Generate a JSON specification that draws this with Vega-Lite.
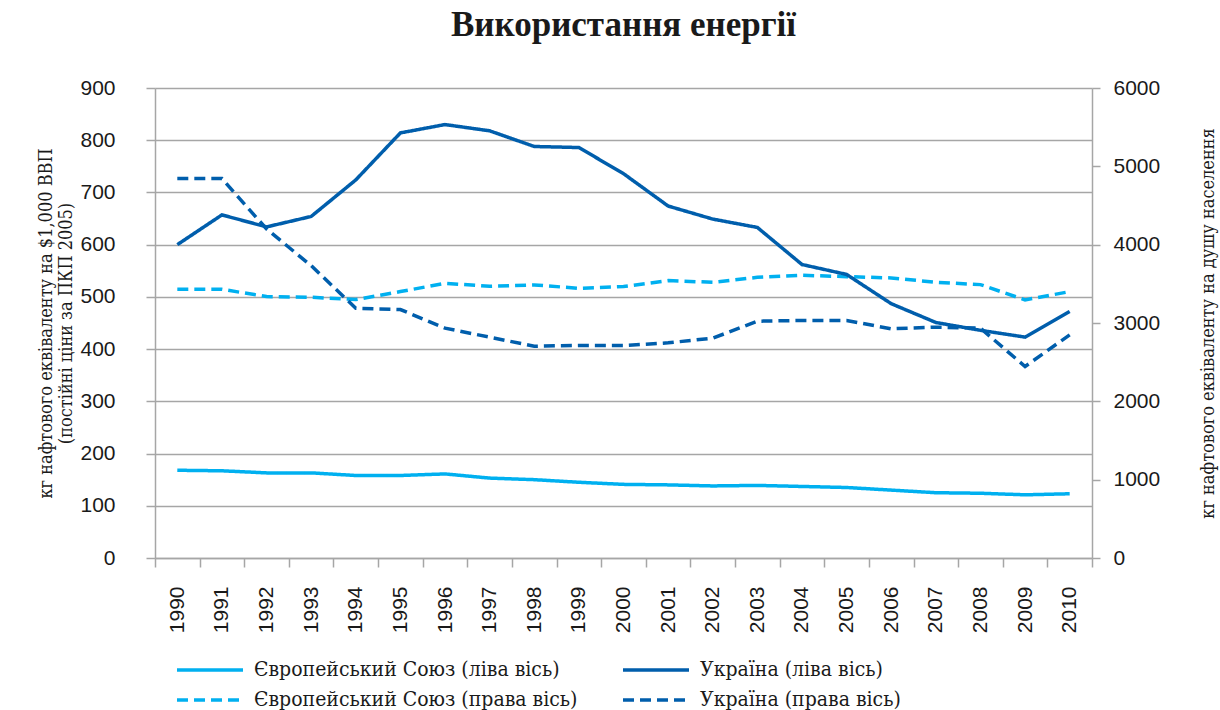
{
  "$schema": "https://vega.github.io/schema/vega-lite/v6.json",
  "width": 937,
  "height": 470,
  "autosize": "none",
  "padding": {"left": 155, "top": 88, "right": 128, "bottom": 152},
  "background": "white",
  "title": {
    "text": "Використання енергії",
    "font": "Liberation Serif",
    "fontWeight": "bold",
    "fontSize": 35,
    "color": "#1a1a1a",
    "anchor": "middle",
    "offset": 34
  },
  "config": {
    "view": {"stroke": null},
    "axis": {
      "labelFont": "Liberation Sans",
      "labelFontSize": 21,
      "labelColor": "#1a1a1a",
      "titleFont": "DejaVu Serif Condensed",
      "titleFontSize": 18,
      "titleFontWeight": "normal",
      "titleColor": "#1a1a1a",
      "domainColor": "#a6a6a6",
      "tickColor": "#a6a6a6",
      "gridColor": "#a6a6a6",
      "domainWidth": 1.5,
      "tickWidth": 1.5,
      "gridWidth": 1.5
    },
    "legend": {
      "labelFont": "DejaVu Serif Condensed",
      "labelFontSize": 21,
      "labelColor": "#1a1a1a",
      "labelLimit": 0
    }
  },
  "data": {
    "values": [
      {"year": 1990, "series": "Європейський Союз (ліва вісь)", "axis": "left", "value": 168},
      {"year": 1991, "series": "Європейський Союз (ліва вісь)", "axis": "left", "value": 167},
      {"year": 1992, "series": "Європейський Союз (ліва вісь)", "axis": "left", "value": 163},
      {"year": 1993, "series": "Європейський Союз (ліва вісь)", "axis": "left", "value": 163},
      {"year": 1994, "series": "Європейський Союз (ліва вісь)", "axis": "left", "value": 158},
      {"year": 1995, "series": "Європейський Союз (ліва вісь)", "axis": "left", "value": 158},
      {"year": 1996, "series": "Європейський Союз (ліва вісь)", "axis": "left", "value": 161},
      {"year": 1997, "series": "Європейський Союз (ліва вісь)", "axis": "left", "value": 153},
      {"year": 1998, "series": "Європейський Союз (ліва вісь)", "axis": "left", "value": 150},
      {"year": 1999, "series": "Європейський Союз (ліва вісь)", "axis": "left", "value": 145},
      {"year": 2000, "series": "Європейський Союз (ліва вісь)", "axis": "left", "value": 141},
      {"year": 2001, "series": "Європейський Союз (ліва вісь)", "axis": "left", "value": 140},
      {"year": 2002, "series": "Європейський Союз (ліва вісь)", "axis": "left", "value": 138},
      {"year": 2003, "series": "Європейський Союз (ліва вісь)", "axis": "left", "value": 139},
      {"year": 2004, "series": "Європейський Союз (ліва вісь)", "axis": "left", "value": 137},
      {"year": 2005, "series": "Європейський Союз (ліва вісь)", "axis": "left", "value": 135},
      {"year": 2006, "series": "Європейський Союз (ліва вісь)", "axis": "left", "value": 130},
      {"year": 2007, "series": "Європейський Союз (ліва вісь)", "axis": "left", "value": 125},
      {"year": 2008, "series": "Європейський Союз (ліва вісь)", "axis": "left", "value": 124},
      {"year": 2009, "series": "Європейський Союз (ліва вісь)", "axis": "left", "value": 121},
      {"year": 2010, "series": "Європейський Союз (ліва вісь)", "axis": "left", "value": 123},
      {"year": 1990, "series": "Україна (ліва вісь)", "axis": "left", "value": 600},
      {"year": 1991, "series": "Україна (ліва вісь)", "axis": "left", "value": 657},
      {"year": 1992, "series": "Україна (ліва вісь)", "axis": "left", "value": 634},
      {"year": 1993, "series": "Україна (ліва вісь)", "axis": "left", "value": 654},
      {"year": 1994, "series": "Україна (ліва вісь)", "axis": "left", "value": 724},
      {"year": 1995, "series": "Україна (ліва вісь)", "axis": "left", "value": 814},
      {"year": 1996, "series": "Україна (ліва вісь)", "axis": "left", "value": 830},
      {"year": 1997, "series": "Україна (ліва вісь)", "axis": "left", "value": 818},
      {"year": 1998, "series": "Україна (ліва вісь)", "axis": "left", "value": 788},
      {"year": 1999, "series": "Україна (ліва вісь)", "axis": "left", "value": 786},
      {"year": 2000, "series": "Україна (ліва вісь)", "axis": "left", "value": 736},
      {"year": 2001, "series": "Україна (ліва вісь)", "axis": "left", "value": 674},
      {"year": 2002, "series": "Україна (ліва вісь)", "axis": "left", "value": 649},
      {"year": 2003, "series": "Україна (ліва вісь)", "axis": "left", "value": 633},
      {"year": 2004, "series": "Україна (ліва вісь)", "axis": "left", "value": 562},
      {"year": 2005, "series": "Україна (ліва вісь)", "axis": "left", "value": 543},
      {"year": 2006, "series": "Україна (ліва вісь)", "axis": "left", "value": 487},
      {"year": 2007, "series": "Україна (ліва вісь)", "axis": "left", "value": 451},
      {"year": 2008, "series": "Україна (ліва вісь)", "axis": "left", "value": 436},
      {"year": 2009, "series": "Україна (ліва вісь)", "axis": "left", "value": 423},
      {"year": 2010, "series": "Україна (ліва вісь)", "axis": "left", "value": 472},
      {"year": 1990, "series": "Європейський Союз (права вісь)", "axis": "right", "value": 3430},
      {"year": 1991, "series": "Європейський Союз (права вісь)", "axis": "right", "value": 3430},
      {"year": 1992, "series": "Європейський Союз (права вісь)", "axis": "right", "value": 3337},
      {"year": 1993, "series": "Європейський Союз (права вісь)", "axis": "right", "value": 3329},
      {"year": 1994, "series": "Європейський Союз (права вісь)", "axis": "right", "value": 3299},
      {"year": 1995, "series": "Європейський Союз (права вісь)", "axis": "right", "value": 3401},
      {"year": 1996, "series": "Європейський Союз (права вісь)", "axis": "right", "value": 3507},
      {"year": 1997, "series": "Європейський Союз (права вісь)", "axis": "right", "value": 3469},
      {"year": 1998, "series": "Європейський Союз (права вісь)", "axis": "right", "value": 3486},
      {"year": 1999, "series": "Європейський Союз (права вісь)", "axis": "right", "value": 3443},
      {"year": 2000, "series": "Європейський Союз (права вісь)", "axis": "right", "value": 3465},
      {"year": 2001, "series": "Європейський Союз (права вісь)", "axis": "right", "value": 3541},
      {"year": 2002, "series": "Європейський Союз (права вісь)", "axis": "right", "value": 3520},
      {"year": 2003, "series": "Європейський Союз (права вісь)", "axis": "right", "value": 3583},
      {"year": 2004, "series": "Європейський Союз (права вісь)", "axis": "right", "value": 3609},
      {"year": 2005, "series": "Європейський Союз (права вісь)", "axis": "right", "value": 3592},
      {"year": 2006, "series": "Європейський Союз (права вісь)", "axis": "right", "value": 3575},
      {"year": 2007, "series": "Європейський Союз (права вісь)", "axis": "right", "value": 3520},
      {"year": 2008, "series": "Європейський Союз (права вісь)", "axis": "right", "value": 3490},
      {"year": 2009, "series": "Європейський Союз (права вісь)", "axis": "right", "value": 3295},
      {"year": 2010, "series": "Європейський Союз (права вісь)", "axis": "right", "value": 3401},
      {"year": 1990, "series": "Україна (права вісь)", "axis": "right", "value": 4844},
      {"year": 1991, "series": "Україна (права вісь)", "axis": "right", "value": 4844},
      {"year": 1992, "series": "Україна (права вісь)", "axis": "right", "value": 4200},
      {"year": 1993, "series": "Україна (права вісь)", "axis": "right", "value": 3732},
      {"year": 1994, "series": "Україна (права вісь)", "axis": "right", "value": 3189},
      {"year": 1995, "series": "Україна (права вісь)", "axis": "right", "value": 3172},
      {"year": 1996, "series": "Україна (права вісь)", "axis": "right", "value": 2934},
      {"year": 1997, "series": "Україна (права вісь)", "axis": "right", "value": 2819},
      {"year": 1998, "series": "Україна (права вісь)", "axis": "right", "value": 2704},
      {"year": 1999, "series": "Україна (права вісь)", "axis": "right", "value": 2713},
      {"year": 2000, "series": "Україна (права вісь)", "axis": "right", "value": 2713},
      {"year": 2001, "series": "Україна (права вісь)", "axis": "right", "value": 2747},
      {"year": 2002, "series": "Україна (права вісь)", "axis": "right", "value": 2806},
      {"year": 2003, "series": "Україна (права вісь)", "axis": "right", "value": 3023},
      {"year": 2004, "series": "Україна (права вісь)", "axis": "right", "value": 3032},
      {"year": 2005, "series": "Україна (права вісь)", "axis": "right", "value": 3032},
      {"year": 2006, "series": "Україна (права вісь)", "axis": "right", "value": 2926},
      {"year": 2007, "series": "Україна (права вісь)", "axis": "right", "value": 2947},
      {"year": 2008, "series": "Україна (права вісь)", "axis": "right", "value": 2934},
      {"year": 2009, "series": "Україна (права вісь)", "axis": "right", "value": 2445},
      {"year": 2010, "series": "Україна (права вісь)", "axis": "right", "value": 2849}
    ]
  },
  "encoding": {
    "color": {
      "field": "series",
      "type": "nominal",
      "scale": {
        "domain": ["Європейський Союз (ліва вісь)", "Україна (ліва вісь)", "Європейський Союз (права вісь)", "Україна (права вісь)"],
        "range": ["#00b0f0", "#005eac", "#00b0f0", "#005eac"]
      },
      "legend": {
        "title": null,
        "orient": "bottom",
        "columns": 2,
        "columnPadding": 38,
        "rowPadding": 7,
        "offset": 4,
        "padding": 20,
        "symbolType": "M-1,0H5",
        "symbolSize": 484,
        "symbolStrokeWidth": 3.5,
        "labelOffset": 53
      }
    },
    "strokeDash": {
      "field": "series",
      "type": "nominal",
      "scale": {
        "domain": ["Європейський Союз (ліва вісь)", "Україна (ліва вісь)", "Європейський Союз (права вісь)", "Україна (права вісь)"],
        "range": [[1, 0], [1, 0], [11, 6], [11, 6]]
      },
      "legend": {
        "title": null,
        "orient": "bottom",
        "columns": 2,
        "columnPadding": 38,
        "rowPadding": 7,
        "offset": 4,
        "padding": 20,
        "symbolType": "M-1,0H5",
        "symbolSize": 484,
        "symbolStrokeWidth": 3.5,
        "labelOffset": 53
      }
    }
  },
  "layer": [
    {
      "transform": [{"filter": "datum.axis === 'right'"}],
      "mark": {"type": "line", "strokeWidth": 3.5},
      "encoding": {
        "x": {
          "field": "year",
          "type": "quantitative",
          "scale": {"domain": [1989.5, 2010.5], "nice": false, "zero": false},
          "axis": {
            "orient": "bottom",
            "values": [1989.5, 1990.5, 1991.5, 1992.5, 1993.5, 1994.5, 1995.5, 1996.5, 1997.5, 1998.5, 1999.5, 2000.5, 2001.5, 2002.5, 2003.5, 2004.5, 2005.5, 2006.5, 2007.5, 2008.5, 2009.5, 2010.5],
            "labels": false,
            "ticks": true,
            "tickSize": 9,
            "grid": false,
            "domain": true,
            "title": null
          }
        },
        "y": {
          "field": "value",
          "type": "quantitative",
          "scale": {"domain": [0, 6000], "nice": false},
          "axis": {
            "orient": "right",
            "values": [0, 1000, 2000, 3000, 4000, 5000, 6000],
            "format": "d",
            "grid": false,
            "tickSize": 8,
            "labelPadding": 13,
            "title": "кг нафтового еквіваленту на душу населення",
            "titleAngle": 270,
            "titlePadding": 58
          }
        }
      }
    },
    {
      "transform": [{"filter": "datum.axis === 'left'"}],
      "mark": {"type": "line", "strokeWidth": 3.5},
      "encoding": {
        "x": {
          "field": "year",
          "type": "quantitative",
          "axis": {
            "orient": "bottom",
            "values": [1990, 1991, 1992, 1993, 1994, 1995, 1996, 1997, 1998, 1999, 2000, 2001, 2002, 2003, 2004, 2005, 2006, 2007, 2008, 2009, 2010],
            "format": "d",
            "labelAngle": -90,
            "labelPadding": 28,
            "ticks": false,
            "domain": false,
            "grid": false,
            "title": null
          }
        },
        "y": {
          "field": "value",
          "type": "quantitative",
          "scale": {"domain": [0, 900], "nice": false},
          "axis": {
            "orient": "left",
            "values": [0, 100, 200, 300, 400, 500, 600, 700, 800, 900],
            "grid": true,
            "tickSize": 9,
            "labelPadding": 31,
            "title": ["кг нафтового еквіваленту на $1,000 ВВП", "(постійні ціни за ПКП 2005)"],
            "titlePadding": 4
          }
        }
      }
    }
  ],
  "resolve": {"scale": {"y": "independent"}, "axis": {"x": "independent"}}
}
